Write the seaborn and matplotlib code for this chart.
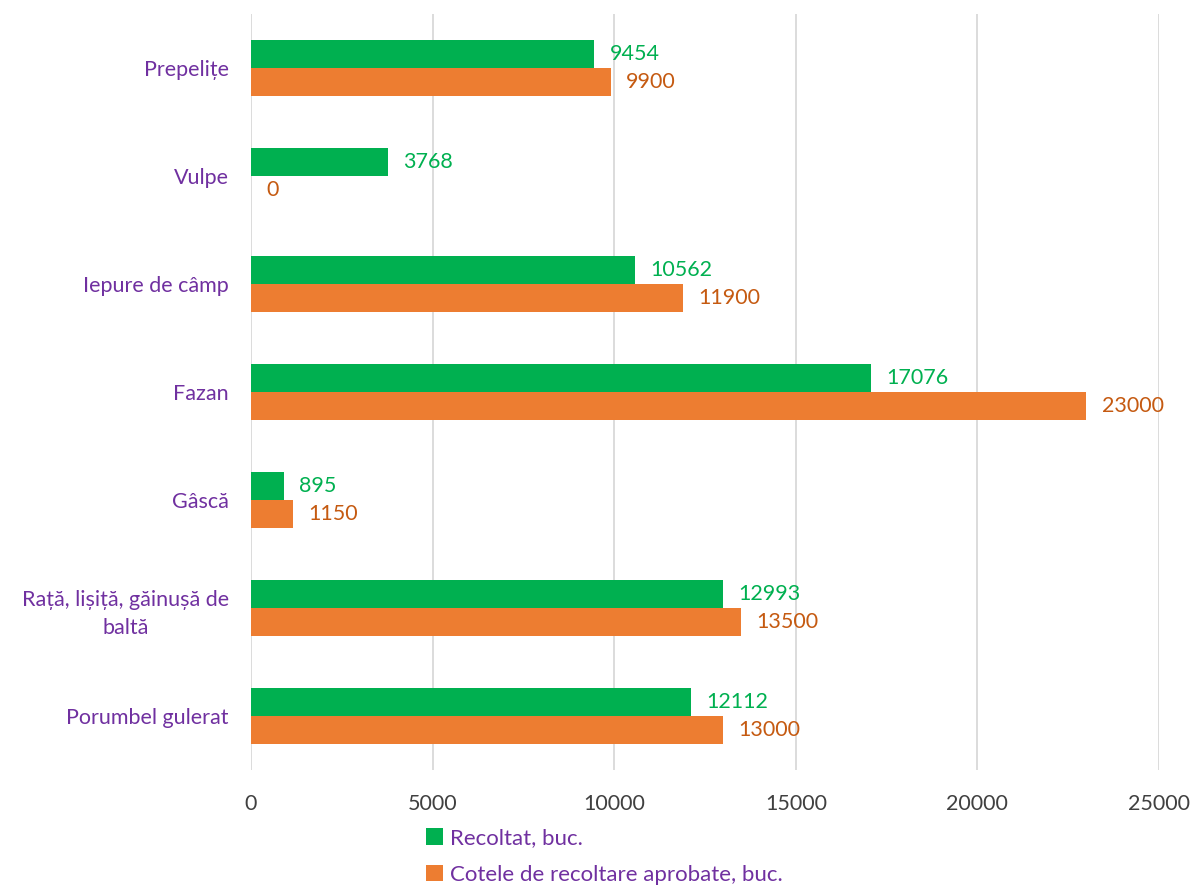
import matplotlib
matplotlib.use("Agg")
import matplotlib.pyplot as plt
import seaborn as sns
import pandas as pd
from matplotlib.patches import Patch

categories = ["Prepelițe", "Vulpe", "Iepure de câmp", "Fazan", "Gâscă",
              "Rață, lișiță, găinușă de\nbaltă", "Porumbel gulerat"]
recoltat = [9454, 3768, 10562, 17076, 895, 12993, 12112]
cote = [9900, 0, 11900, 23000, 1150, 13500, 13000]
series = ["Recoltat, buc.", "Cotele de recoltare aprobate, buc."]
xticks = [0, 5000, 10000, 15000, 20000, 25000]

bar_colors = ["#00B050", "#ED7D31"]
label_colors = ["#00B050", "#C55A11"]
purple = "#7030A0"

sns.set_theme(style="white")
plt.rcParams['font.family'] = ['Lato', 'DejaVu Sans']

df = pd.DataFrame({
    "cat": categories * 2,
    "val": recoltat + cote,
    "series": [series[0]] * len(categories) + [series[1]] * len(categories),
})

fig = plt.figure(figsize=(11.92, 8.86), dpi=100)
ax = fig.add_axes([251/1192, 1-770/886, (1159-251)/1192, (770-14)/886])

sns.barplot(data=df, x="val", y="cat", hue="series", order=categories,
            hue_order=series, palette=bar_colors, orient="h", width=0.52,
            gap=0, saturation=1, ax=ax, legend=False, errorbar=None,
            linewidth=0, edgecolor="none")

for cont, col in zip(ax.containers, label_colors):
    ax.bar_label(cont, labels=[f"{int(v)}" for v in cont.datavalues],
                 padding=11, color=col, fontsize=15.5)

ax.set_xlim(0, 25000)
ax.set_ylim(len(categories) - 0.5, -0.5)
ax.set_xticks(xticks)
ax.set_xticklabels([str(t) for t in xticks], fontsize=15.5, color="#404040")
ax.tick_params(axis="x", length=0, pad=17)
ax.tick_params(axis="y", length=0, pad=16)
for lab in ax.get_yticklabels():
    lab.set_color(purple)
    lab.set_fontsize(15.5)
    lab.set_multialignment("center")
    lab.set_linespacing(1.5)
ax.set_xlabel("")
ax.set_ylabel("")
ax.grid(axis="x", color="#D9D9D9", linewidth=1.3)
ax.set_axisbelow(True)
for s in ax.spines.values():
    s.set_visible(False)

handles = [Patch(facecolor=c, edgecolor="none") for c in bar_colors]
leg = fig.legend(handles, series, loc="upper left",
                 bbox_to_anchor=(426/1192, 1-828/886), ncol=1, frameon=False,
                 fontsize=16, handlelength=0.78, handleheight=0.78,
                 handletextpad=0.3, labelspacing=0.75,
                 borderpad=0, borderaxespad=0)
for t in leg.get_texts():
    t.set_color(purple)

fig.savefig("out.png", dpi=100)
